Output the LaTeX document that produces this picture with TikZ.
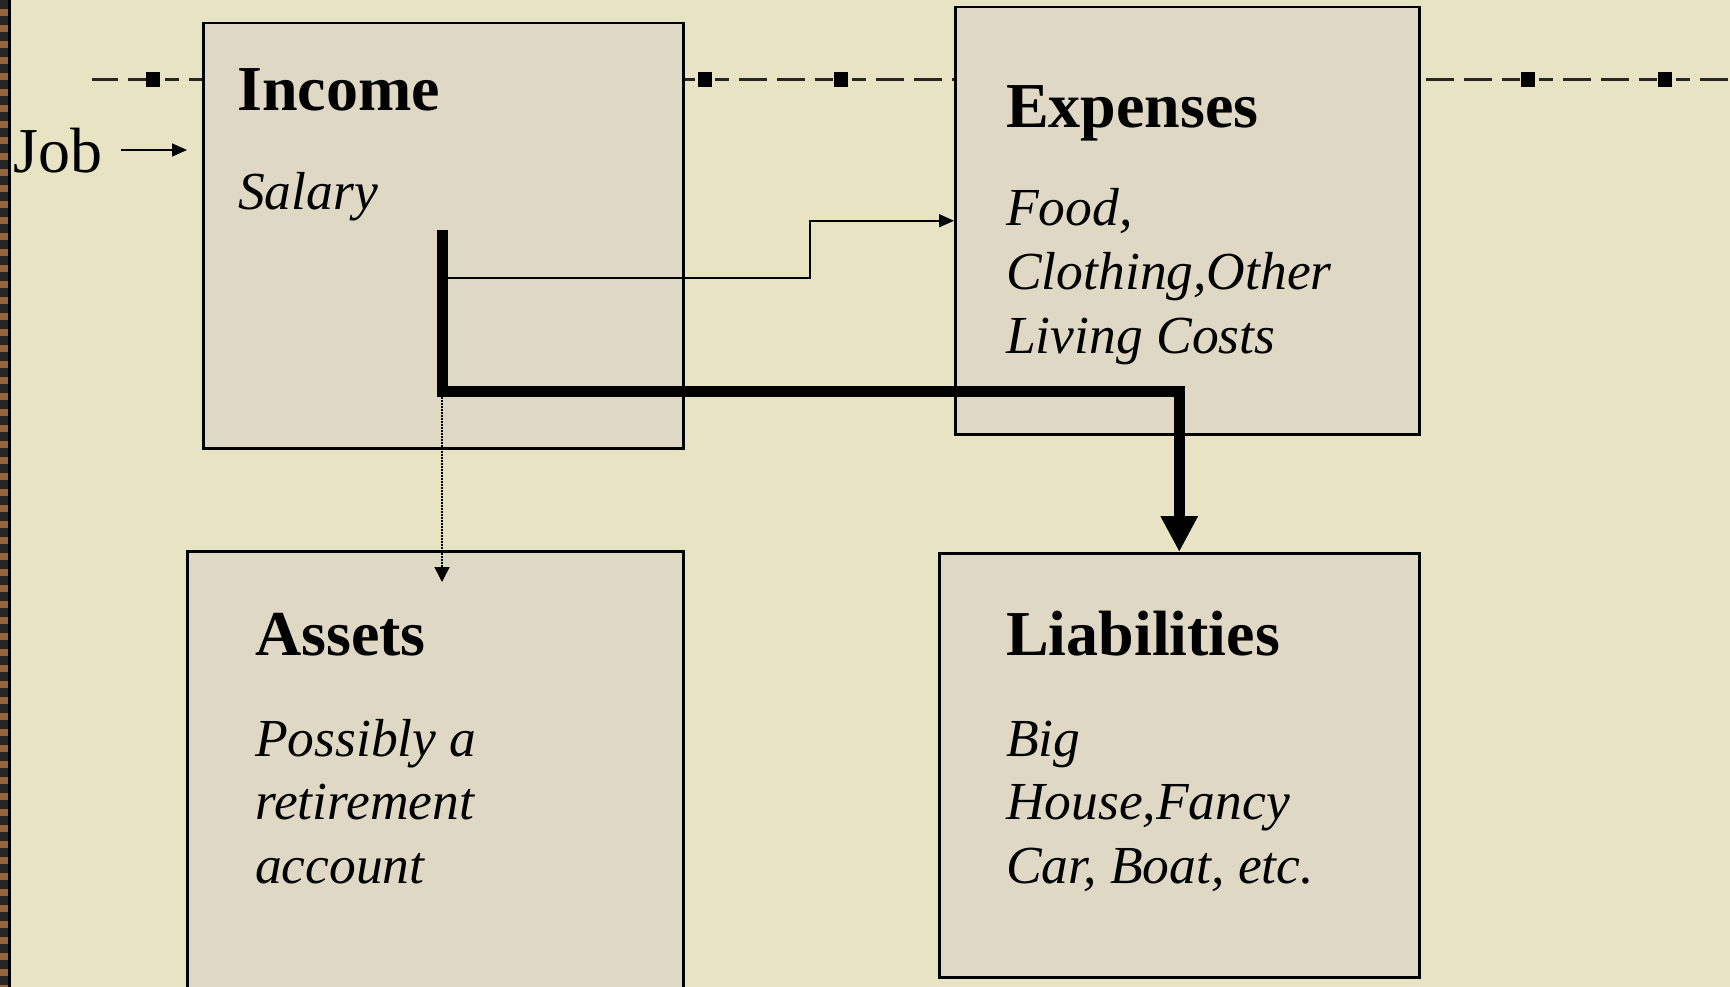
\documentclass[tikz,border=0pt]{standalone}
\usepackage{fontspec}
\setmainfont{Liberation Serif}
\usetikzlibrary{arrows.meta}
\definecolor{paper}{RGB}{232,227,195}
\definecolor{boxfill}{RGB}{223,216,196}
\definecolor{framebrown}{RGB}{150,100,60}
\tikzset{
  box/.style={draw=black, line width=2.5pt, fill=boxfill, anchor=north west, inner sep=0pt},
  titletext/.style={anchor=base west, inner sep=0pt, font=\fontsize{64}{64}\selectfont\bfseries},
  bodytext/.style={anchor=base west, inner sep=0pt, font=\fontsize{53.5}{64}\selectfont\itshape},
  plaintext/.style={anchor=base west, inner sep=0pt, font=\fontsize{64}{64}\selectfont},
  thinarrow/.style={line width=1.6pt, -{Triangle[length=15pt,width=13pt]}},
  heavyarrow/.style={line width=11pt, line join=miter, -{Triangle[length=36pt,width=35pt]}},
  dotarrow/.style={line width=1.6pt, dash pattern=on 1.5pt off 1.5pt, -{Triangle[length=15pt,width=15pt]}},
  guidemark/.style={fill=black, minimum width=14pt, minimum height=15pt, inner sep=0pt},
  guideline/.style={line width=3pt, draw=black!85, dash pattern=on 14pt off 10pt on 28pt off 10pt on 28pt off 10pt on 18pt off 19.4pt, dash phase=64.4pt},
}
\begin{document}
\begin{tikzpicture}[x=1pt,y=-1pt]
  \clip (0,0) rectangle (1730,987);
  \fill[paper] (0,0) rectangle (1730,987);
  % left frame
  \fill[framebrown] (0,0) rectangle (8,987);
  \draw[line width=8pt, black!85, dash pattern=on 9pt off 7pt] (4,0) -- (4,987);
  \fill[black] (8,0) rectangle (11,987);
  % guide line
  \coordinate (gA) at (92,80);
  \coordinate (gB) at (1730,80);
  \draw[guideline] (gA) -- (gB);
  \node[guidemark] (m1) at (153,80) {};
  \node[guidemark] (m2) at (705,80) {};
  \node[guidemark] (m3) at (841,80) {};
  \node[guidemark] (m4) at (1528,80) {};
  \node[guidemark] (m5) at (1665,80) {};
  % boxes
  \node[box, minimum width=480pt, minimum height=425pt] (income) at (202,22) {};
  \node[box, minimum width=464pt, minimum height=427pt] (expenses) at (954,6) {};
  \node[box, minimum width=496pt, minimum height=480pt] (assets) at (186,550) {};
  \node[box, minimum width=480pt, minimum height=424pt] (liab) at (938,552) {};
  % texts
  \node[titletext] (tIncome) at (237,111) {Income};
  \node[bodytext] (tSalary) at (238,210) {Salary};
  \node[titletext] (tExpenses) at (1006,128) {Expenses};
  \node[bodytext] (tE1) at (1006,226) {Food,};
  \node[bodytext] (tE2) at (1006,290) {Clothing,Other};
  \node[bodytext] (tE3) at (1006,353) {Living Costs};
  \node[titletext] (tAssets) at (255,655) {Assets};
  \node[bodytext] (tA1) at (255,756) {Possibly a};
  \node[bodytext] (tA2) at (255,819) {retirement};
  \node[bodytext] (tA3) at (255,883) {account};
  \node[titletext] (tLiab) at (1006,655) {Liabilities};
  \node[bodytext] (tL1) at (1006,756) {Big};
  \node[bodytext] (tL2) at (1006,819) {House,Fancy};
  \node[bodytext] (tL3) at (1006,883) {Car, Boat, etc.};
  \node[plaintext] (job) at (13,173) {Job};
  % connectors
  \coordinate (jobA) at (121,150);
  \coordinate (jobB) at (187,150);
  \draw[thinarrow] (jobA) -- (jobB);
  \coordinate (hTop) at (442,230);
  \coordinate (hSplit) at (442,278);
  \coordinate (hCorner) at (442,391);
  \coordinate (dotStart) at (442,397);
  \coordinate (dotEnd) at (442,582);
  \draw[thinarrow] (hSplit) -- ++(368,0) |- (expenses.west);
  \draw[dotarrow] (dotStart) -- (dotEnd);
  \draw[heavyarrow] (hTop) -- (hCorner) -| (liab.north);
\end{tikzpicture}
\end{document}
